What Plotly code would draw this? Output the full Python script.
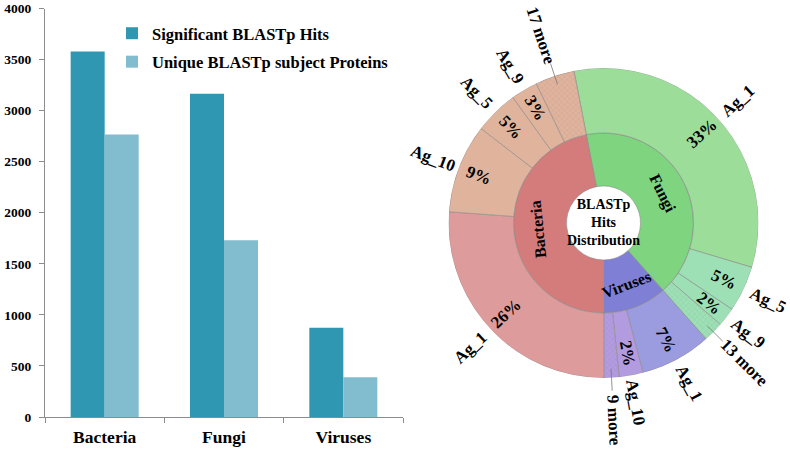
import math
import plotly.graph_objects as go

# ---------------- data ----------------
categories = ["Bacteria", "Fungi", "Viruses"]
significant_hits = [3580, 3165, 875]
unique_proteins = [2765, 1730, 390]
y_ticks = [0, 500, 1000, 1500, 2000, 2500, 3000, 3500, 4000]

# sunburst (clockwise order starting at the Bacteria/Fungi boundary)
inner_labels = ["Fungi", "Viruses", "Bacteria"]
inner_hits = [3165, 875, 3580]
outer_parents = ["Fungi", "Fungi", "Fungi", "Fungi",
                 "Viruses", "Viruses", "Viruses",
                 "Bacteria", "Bacteria", "Bacteria", "Bacteria", "Bacteria"]
outer_labels = ["Ag_1", "Ag_5", "Ag_9", "13 more",
                "Ag_1", "Ag_10", "9 more",
                "Ag_1", "Ag_10", "Ag_5", "Ag_9", "17 more"]
outer_hits = [2490, 365, 150, 160,
              565, 190, 120,
              1996, 709, 350, 213, 312]
center_title = "BLASTp<br>Hits<br>Distribution"

# ---------------- styles ----------------
W, H = 790, 451
FONT = "Liberation Serif"
inner_colors = {"Bacteria": "#d47b7c", "Fungi": "#7ed47f", "Viruses": "#7f7fd5"}
first_colors = {"Bacteria": "#de9b9b", "Fungi": "#9bdd99", "Viruses": "#9b9be0"}
other_colors = {"Bacteria": "#e0b39d", "Fungi": "#9ee0b6", "Viruses": "#b39be0"}

CX, CY, R = 603.5, 223.0, 155.0
R_HOLE, R_MID = 37.0, 90.0
ROT = 101.0

def bold(size):
    return dict(size=size, family=FONT, color="black", weight="bold")

fig = go.Figure()

# ---------------- bar chart ----------------
fig.add_trace(go.Bar(
    x=categories, y=significant_hits, name="Significant BLASTp Hits",
    marker=dict(color="#3097b3", line=dict(width=0)),
    legendgroup="a", xaxis="x", yaxis="y"))
fig.add_trace(go.Bar(
    x=categories, y=unique_proteins, name="Unique BLASTp subject Proteins",
    marker=dict(color="#82bccf", line=dict(width=0)),
    legendgroup="b", xaxis="x", yaxis="y"))

# ---------------- sunburst via barpolar ----------------
total = sum(inner_hits)

def seg_angles(values):
    out = []
    cum = 0.0
    for v in values:
        w = v / total * 360.0
        out.append((cum + w / 2.0, w))
        cum += w
    return out

inner_ang = seg_angles(inner_hits)
outer_ang = seg_angles(outer_hits)

fig.add_trace(go.Barpolar(
    theta=[a for a, _ in inner_ang], width=[w for _, w in inner_ang],
    base=[R_HOLE] * len(inner_hits), r=[R_MID - R_HOLE] * len(inner_hits),
    marker=dict(color=[inner_colors[k] for k in inner_labels],
                line=dict(color="#8c8c8c", width=0.6)),
    showlegend=False, hoverinfo="skip", subplot="polar"))

outer_cols = []
first_seen = set()
for p in outer_parents:
    if p not in first_seen:
        outer_cols.append(first_colors[p])
        first_seen.add(p)
    else:
        outer_cols.append(other_colors[p])
patterns = ["x" if "more" in l else "" for l in outer_labels]

fig.add_trace(go.Barpolar(
    theta=[a for a, _ in outer_ang], width=[w for _, w in outer_ang],
    base=[R_MID] * len(outer_hits), r=[R - R_MID] * len(outer_hits),
    marker=dict(color=outer_cols,
                line=dict(color="#8c8c8c", width=0.6),
                pattern=dict(shape=patterns, size=4, solidity=0.12,
                             fgcolor="#8a8a8a", fgopacity=0.25)),
    showlegend=False, hoverinfo="skip", subplot="polar"))

def to_paper(r, a_deg):
    a = math.radians(a_deg)
    px = CX + r * math.cos(a)
    py = CY - r * math.sin(a)
    return px / W, 1 - py / H

def screen_angle(t):
    return ROT - t

def radial_angle(a):
    a = (a + 180) % 360 - 180
    ta = -a
    if a > 90 or a < -90:
        ta = 180 - a
    return ((ta + 180) % 360) - 180

def tangential_angle(a):
    ta = 90 - a
    ta = ((ta + 180) % 360) - 180
    if ta > 100:
        ta -= 180
    elif ta < -100:
        ta += 180
    return ta

annotations = []
shapes = []

def label(x, y, text, angle, size):
    annotations.append(dict(x=x, y=y, xref="paper", yref="paper", text=text,
                            textangle=angle, showarrow=False,
                            xanchor="center", yanchor="middle", font=bold(size)))

for lab, (t, w) in zip(inner_labels, inner_ang):
    a = screen_angle(t)
    x, y = to_paper(66, a)
    label(x, y, lab, tangential_angle(a), 16)

for lab, v, (t, w) in zip(outer_labels, outer_hits, outer_ang):
    a = screen_angle(t)
    ta = radial_angle(a)
    if "more" not in lab:
        x, y = to_paper(133, a)
        label(x, y, f"{round(v / total * 100)}%", ta, 17)
        x, y = to_paper(182, a)
    else:
        x0, y0 = to_paper(146, a)
        x1, y1 = to_paper(168, a)
        shapes.append(dict(type="line", xref="paper", yref="paper",
                           x0=x0, y0=y0, x1=x1, y1=y1,
                           line=dict(color="#777777", width=0.8)))
        x, y = to_paper(198, a)
    label(x, y, lab, ta, 17)

cx, cy = to_paper(0, 0)
label(cx, cy, center_title, 0, 14)

fig.update_layout(
    width=W, height=H,
    margin=dict(l=0, r=0, t=0, b=0),
    paper_bgcolor="white", plot_bgcolor="white",
    font=dict(family=FONT, color="black", weight="bold"),
    barmode="group", bargap=0.43, bargroupgap=0,
    xaxis=dict(domain=[45 / W, 403 / W], showline=True, linecolor="#8c8c8c",
               linewidth=1, ticks="outside", ticklen=5, tickcolor="#8c8c8c",
               tickson="boundaries", showgrid=False, anchor="y", automargin=False,
               tickfont=bold(17.5), ticklabelstandoff=4),
    yaxis=dict(domain=[1 - 417 / H, 1 - 8.5 / H], range=[0, 4000],
               tickvals=y_ticks, showline=True, linecolor="#8c8c8c", linewidth=1,
               ticks="outside", ticklen=5, tickcolor="#8c8c8c", showgrid=False,
               zeroline=False, anchor="x", automargin=False,
               tickfont=bold(13.5), ticklabelstandoff=5),
    legend=dict(x=112 / W, y=1 - 16 / H, xanchor="left", yanchor="top",
                bgcolor="rgba(0,0,0,0)", traceorder="grouped", tracegroupgap=4,
                font=bold(16.5)),
    polar=dict(domain=dict(x=[(CX - R) / W, (CX + R) / W],
                           y=[1 - (CY + R) / H, 1 - (CY - R) / H]),
               bgcolor="white", hole=0,
               radialaxis=dict(range=[0, R], visible=False),
               angularaxis=dict(direction="clockwise", rotation=ROT, visible=False)),
    annotations=annotations, shapes=shapes,
)

fig.write_html("out.html", config={"displayModeBar": False},
               post_script="document.body.style.margin='0px';")
